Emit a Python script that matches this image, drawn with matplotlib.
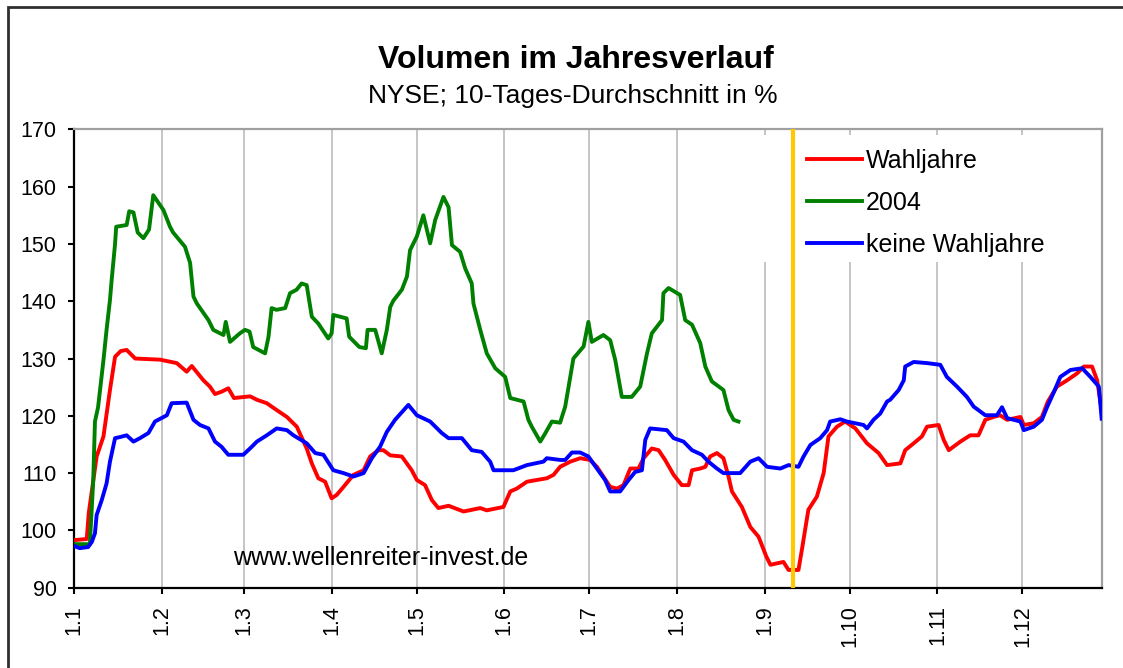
import matplotlib
matplotlib.use('Agg')
import matplotlib.pyplot as plt
from matplotlib.patches import Rectangle

plt.rcParams['font.family'] = ['Liberation Sans', 'DejaVu Sans']

# x axis = day of year (2004, leap year), ticks at month starts
month_starts = [0, 31, 60, 91, 121, 152, 182, 213, 244, 274, 305, 335]
month_labels = ['1.1', '1.2', '1.3', '1.4', '1.5', '1.6', '1.7', '1.8', '1.9', '1.10', '1.11', '1.12']
marker_day = 254  # 11.9.

# Wahljahre (red)
wahl_days = [0, 4.5, 5.2, 8, 10.4, 12.7, 14.5, 16.5, 18.6, 21.6,
             30.4, 36.3, 39.8, 41.6, 45.7, 48, 49.8, 52.1, 54.5, 56.5,
             62.2, 64.6, 68.1, 71.6, 75.2, 78.7, 82.2, 84, 86.3, 88.7,
             91, 92.8, 95.2, 98.7, 102.3, 104.6, 107.5, 109.3, 111.7, 115.8,
             119.3, 121.1, 124, 126.4, 128.7, 132.3, 137.6, 143.5, 145.8, 151.7,
             154.1, 156.4, 160, 163.5, 167, 169.4, 171.7, 175.3, 178.8, 182.3,
             184.7, 187, 189.4, 191.8, 194.1, 196.5, 199.4, 201.2, 204.1, 206.5,
             208.8, 211.8, 214.7, 217.1, 218.3, 221.2, 223, 224.7, 227.1, 229.4,
             231.2, 232.4, 235.9, 238.9, 241.8, 244.5, 246, 250.6, 252.4, 255.9,
             257.1, 259.4, 262.4, 264.8, 266.5, 269.5, 272.4, 276, 280.1, 284.2,
             287.2, 291.9, 293.6, 296.6, 299.5, 301.3, 305.4, 307.2, 309, 313.1,
             316.6, 319.5, 321.9, 324.8, 327.1, 329.6, 334.3, 335.5, 339, 341.9,
             344, 347.2, 350.8, 354.3, 356.7, 359.6, 361.4, 363]
wahl_vals = [98.3, 98.5, 103, 112.9, 116.4, 124.5, 130.3, 131.3, 131.5, 130,
             129.8, 129.2, 127.7, 128.7, 126.2, 125.1, 123.8, 124.2, 124.8, 123.1,
             123.4, 122.8, 122.2, 121, 119.8, 118.1, 114.3, 111.7, 109.1, 108.5,
             105.6, 106.2, 107.6, 109.7, 110.5, 112.9, 114, 114, 113.1, 112.9,
             110.5, 108.8, 107.9, 105.3, 103.9, 104.3, 103.3, 103.9, 103.5, 104.1,
             106.8, 107.3, 108.5, 108.8, 109.1, 109.7, 111.1, 112, 112.6, 112.3,
             111.1, 109.4, 107.6, 107.3, 107.9, 110.8, 110.8, 112.6, 114.3, 114,
             112.3, 109.7, 107.9, 107.9, 110.5, 110.8, 111.1, 112.9, 113.5, 112.6,
             109.4, 106.8, 104.1, 100.6, 98.9, 95.5, 94, 94.5, 93.1, 93.1,
             96.6, 103.6, 105.9, 110, 116.4, 118.1, 119, 117.8, 115.2, 113.5,
             111.4, 111.7, 114, 115.2, 116.4, 118.1, 118.4, 115.8, 114, 115.5,
             116.6, 116.6, 119.3, 119.8, 120.1, 119.3, 119.8, 118.4, 118.7, 119.8,
             122.5, 125.1, 126.2, 127.4, 128.6, 128.6, 126.2, 121]

# 2004 (green)
y2004_days = [0, 5.6, 6.8, 7.4, 8.5, 10.4, 11.5, 12.7, 13.3, 14.5,
              14.9, 18.6, 19.5, 21, 22.5, 24.5, 26.5, 28, 31.6, 33.9,
              35, 39.2, 41, 42.2, 43.4, 47.5, 49.2, 52.8, 53.6, 55.1,
              58.6, 60.4, 62, 63.3, 67.5, 68.7, 69.8, 71.5, 74.6, 76.3,
              78.6, 80.4, 82.2, 84, 86.3, 89.8, 91, 91.6, 96.3, 97.2,
              100.8, 103.1, 103.7, 106.4, 108.7, 110.5, 111.7, 112.8, 115.8, 117.6,
              118.7, 121.1, 123.4, 125.8, 127.6, 130.5, 132.3, 133.5, 136.4, 138.2,
              140.5, 141.1, 143.5, 145.8, 148.8, 152.3, 154.1, 158.8, 160.5, 161.7,
              164.7, 166.4, 168.8, 171.7, 173.5, 175.3, 176.4, 180, 181.7, 182.9,
              187, 189.4, 191.2, 193.5, 197, 200, 202.4, 204.1, 207.7, 208.2,
              210, 214.1, 215.9, 218.3, 221.2, 223, 225.3, 229.4, 231.2, 233,
              234.7]
y2004_vals = [97.6, 97.6, 108.8, 119, 121.5, 129.7, 135, 140.2, 143.7, 150,
              153, 153.3, 155.7, 155.5, 152, 151, 152.5, 158.5, 155.9, 153,
              152, 149.5, 146.7, 140.8, 139.6, 136.7, 135, 134.1, 136.4, 132.9,
              134.4, 135, 134.7, 132, 130.9, 133.8, 138.8, 138.5, 138.8, 141.4,
              142, 143.1, 142.8, 137.3, 136.1, 133.5, 134.4, 137.6, 137, 133.8,
              132, 131.8, 135, 135, 130.9, 135, 139, 140.1, 142, 144.3,
              148.9, 151.3, 155, 150.1, 154.2, 158.2, 156.4, 149.8, 148.6, 145.7,
              143.1, 139.6, 135, 130.9, 128.3, 126.8, 123.1, 122.5, 119.3, 118.1,
              115.5, 116.9, 119, 118.8, 121.6, 126.8, 130, 132.1, 136.4, 132.9,
              134.1, 133.2, 129.7, 123.3, 123.3, 125.1, 130.9, 134.4, 136.7, 141.4,
              142.3, 141.1, 136.7, 135.9, 132.7, 128.6, 126, 124.5, 121, 119.3,
              119]

# keine Wahljahre (blue)
keine_days = [0, 2, 5, 6.3, 7.4, 8, 9.8, 11.5, 12.7, 14.5,
              16.3, 18.6, 21, 23.3, 26.3, 28.6, 32.8, 34.5, 39.8, 42.2,
              44.5, 47.5, 49.8, 52.1, 54.5, 59.8, 62.8, 64.6, 68.1, 71.6,
              75.2, 77.5, 82.2, 85.2, 88.1, 91.6, 95.2, 98.7, 102.3, 105.2,
              108.1, 110.5, 113.4, 118.1, 121.1, 125.8, 129.9, 132.3, 137, 140.5,
              144, 147, 148.2, 155.2, 160, 165.8, 167, 171.7, 173.5, 175.9,
              178.8, 181.7, 184.7, 187.6, 189.4, 192.9, 195.9, 198.2, 200.6, 201.8,
              203.5, 209.4, 211.8, 215.3, 218.3, 221.8, 224.1, 227.1, 229.4, 235.3,
              238.9, 241.8, 244.8, 249.5, 252.4, 255.9, 257.7, 260.1, 263.6, 266,
              267.1, 270.7, 273, 276, 278.9, 280.1, 282.4, 284.8, 287.2, 288.3,
              291.3, 293.1, 293.6, 296.6, 301.3, 306, 308.3, 311.9, 315.4, 317.8,
              321.9, 326, 327.8, 329.6, 334.3, 335.5, 339, 341.9, 343.7, 346,
              348.4, 352, 356.1, 359, 362, 363]
keine_vals = [97.3, 96.9, 97.1, 98, 99.5, 102.7, 105.3, 108.2, 112, 116.1,
              116.3, 116.6, 115.5, 116.1, 117, 119, 120.1, 122.2, 122.3, 119.3,
              118.4, 117.8, 115.5, 114.6, 113.2, 113.2, 114.6, 115.5, 116.6, 117.8,
              117.5, 116.6, 115.2, 113.5, 113.2, 110.5, 110, 109.4, 110, 112.6,
              114.6, 117.2, 119.3, 121.9, 120.1, 119, 117, 116.1, 116.1, 114,
              113.7, 112, 110.5, 110.5, 111.4, 112, 112.6, 112.3, 112.3, 113.6,
              113.6, 112.9, 110.8, 108.8, 106.8, 106.8, 108.8, 110.2, 110.5, 115.8,
              117.8, 117.5, 116.1, 115.5, 114, 113.2, 112, 110.8, 110, 110,
              112, 112.6, 111.1, 110.8, 111.4, 111.1, 112.9, 114.9, 116.1, 117.5,
              119, 119.4, 119, 118.7, 118.4, 117.8, 119.3, 120.4, 122.5, 122.8,
              124.5, 126.2, 128.6, 129.4, 129.2, 128.9, 126.8, 125.1, 123.3, 121.6,
              120.1, 120.1, 121.5, 119.6, 119, 117.5, 118.1, 119.3, 121.5, 124,
              126.8, 128, 128.3, 126.8, 125.1, 119.5]

assert len(wahl_days) == len(wahl_vals)
assert len(y2004_days) == len(y2004_vals)
assert len(keine_days) == len(keine_vals)

fig = plt.figure(figsize=(11.23, 6.68), dpi=100)
fig.patch.set_facecolor('white')

# outer chart border (only top/left visible in the picture)
fig.add_artist(Rectangle((0.0071, -0.1), 1.2, 1.0895, transform=fig.transFigure,
                         fill=False, edgecolor='#303030', lw=2, clip_on=False))

ax = fig.add_axes([0.0659, 0.1202, 0.9151, 0.6862])

ax.plot(wahl_days, wahl_vals, color='#FF0000', lw=2.8, label='Wahljahre', zorder=3)
ax.plot(y2004_days, y2004_vals, color='#008000', lw=2.8, label='2004', zorder=3)
ax.plot(keine_days, keine_vals, color='#0000FF', lw=2.8, label='keine Wahljahre', zorder=3)

ax.set_xlim(0, 363)
ax.set_ylim(90, 170)
ax.set_yticks(range(90, 171, 10))
ax.set_xticks(month_starts)
ax.set_xticklabels(month_labels, rotation=90)
ax.tick_params(axis='both', labelsize=15.5, length=4.5, width=1.5, color='black', pad=8)

for d in month_starts[1:]:
    ax.axvline(d, color='#C0C0C0', lw=1.3, zorder=1)

for side in ['left', 'bottom']:
    ax.spines[side].set_color('black')
    ax.spines[side].set_linewidth(1.6)
for side in ['top', 'right']:
    ax.spines[side].set_color('#A0A0A0')
    ax.spines[side].set_linewidth(1.6)

# legend background box (hides gridlines)
ax.add_patch(Rectangle((0.6675, 0.7105), 0.327, 0.2771, transform=ax.transAxes,
                       facecolor='white', edgecolor='none', zorder=2))

ax.axvline(marker_day, color='#FFC800', lw=3, zorder=6)

leg = ax.legend(loc='upper left', bbox_to_anchor=(0.7132, 0.958), frameon=False,
                fontsize=18, handlelength=2.2, handletextpad=0.15,
                borderpad=0, borderaxespad=0, labelspacing=0.72)
leg.set_zorder(5)

ax.text(0.155, 0.05, 'www.wellenreiter-invest.de', transform=ax.transAxes,
        fontsize=18, va='baseline', ha='left', zorder=4)

fig.text(0.513, 0.898, 'Volumen im Jahresverlauf', fontsize=23, fontweight='bold',
         ha='center', va='baseline')
fig.text(0.510, 0.846, 'NYSE; 10-Tages-Durchschnitt in %', fontsize=19,
         ha='center', va='baseline')

fig.savefig('out.png', dpi=100)
